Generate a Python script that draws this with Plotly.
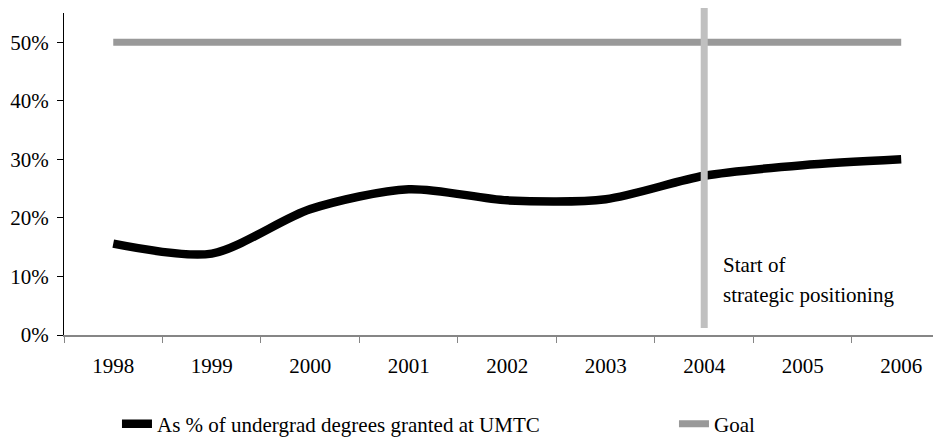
import plotly.graph_objs as go

# Data
years = ["1998", "1999", "2000", "2001", "2002", "2003", "2004", "2005", "2006"]
umtc_pct = [15.6, 13.9, 21.5, 24.9, 23.0, 23.2, 27.2, 29.0, 30.0]
goal_pct = [50, 50, 50, 50, 50, 50, 50, 50, 50]
y_ticks = [0, 10, 20, 30, 40, 50]
y_tick_labels = ["0%", "10%", "20%", "30%", "40%", "50%"]
marker_index = 6  # 2004

FONT = "Liberation Serif"

fig = go.Figure()

fig.add_trace(go.Scatter(
    x=years, y=umtc_pct, mode="lines",
    name="As % of undergrad degrees granted at UMTC",
    line=dict(color="black", width=8.5, shape="spline", smoothing=0.8),
    legend="legend",
))

fig.add_trace(go.Scatter(
    x=years, y=goal_pct, mode="lines", name="Goal",
    line=dict(color="#999999", width=7),
    legend="legend2",
))

# Vertical marker for start of strategic positioning
fig.add_shape(type="line", xref="x", yref="paper",
              x0=marker_index, x1=marker_index, y0=0.022, y1=1.019,
              line=dict(color="#c0c0c0", width=7), layer="above")

fig.add_annotation(x=6.17, y=12.0, xref="x", yref="y", text="Start of",
                   showarrow=False, xanchor="left", yanchor="middle",
                   font=dict(family=FONT, size=21, color="black"))
fig.add_annotation(x=6.17, y=6.8, xref="x", yref="y", text="strategic positioning",
                   showarrow=False, xanchor="left", yanchor="middle",
                   font=dict(family=FONT, size=21, color="black"))

# page body adds an 8px margin, so the figure is sized/offset to compensate
fig.update_layout(
    width=933, height=434,
    margin=dict(l=56, r=0, t=5, b=107, autoexpand=False),
    plot_bgcolor="white", paper_bgcolor="white",
    font=dict(family=FONT, size=21, color="black"),
    showlegend=True,
    legend=dict(orientation="h", xref="container", yref="container",
                x=0.1168, y=0.0415, xanchor="left", yanchor="middle",
                font=dict(family=FONT, size=21)),
    legend2=dict(orientation="h", xref="container", yref="container",
                 x=0.7138, y=0.0415, xanchor="left", yanchor="middle",
                 font=dict(family=FONT, size=21)),
)

fig.update_xaxes(type="category", range=[-0.5, 8.404], tickson="boundaries",
                 showline=True, linecolor="#868686", linewidth=1.5,
                 ticks="outside", ticklen=6, tickcolor="#868686",
                 showgrid=False, zeroline=False, ticklabelstandoff=11)
fig.update_yaxes(range=[0, 55], tickvals=y_ticks, ticktext=y_tick_labels,
                 showline=True, linecolor="black", linewidth=1,
                 ticks="outside", ticklen=6, tickcolor="black",
                 showgrid=False, zeroline=False, ticklabelstandoff=4)

fig.write_html("out.html")
